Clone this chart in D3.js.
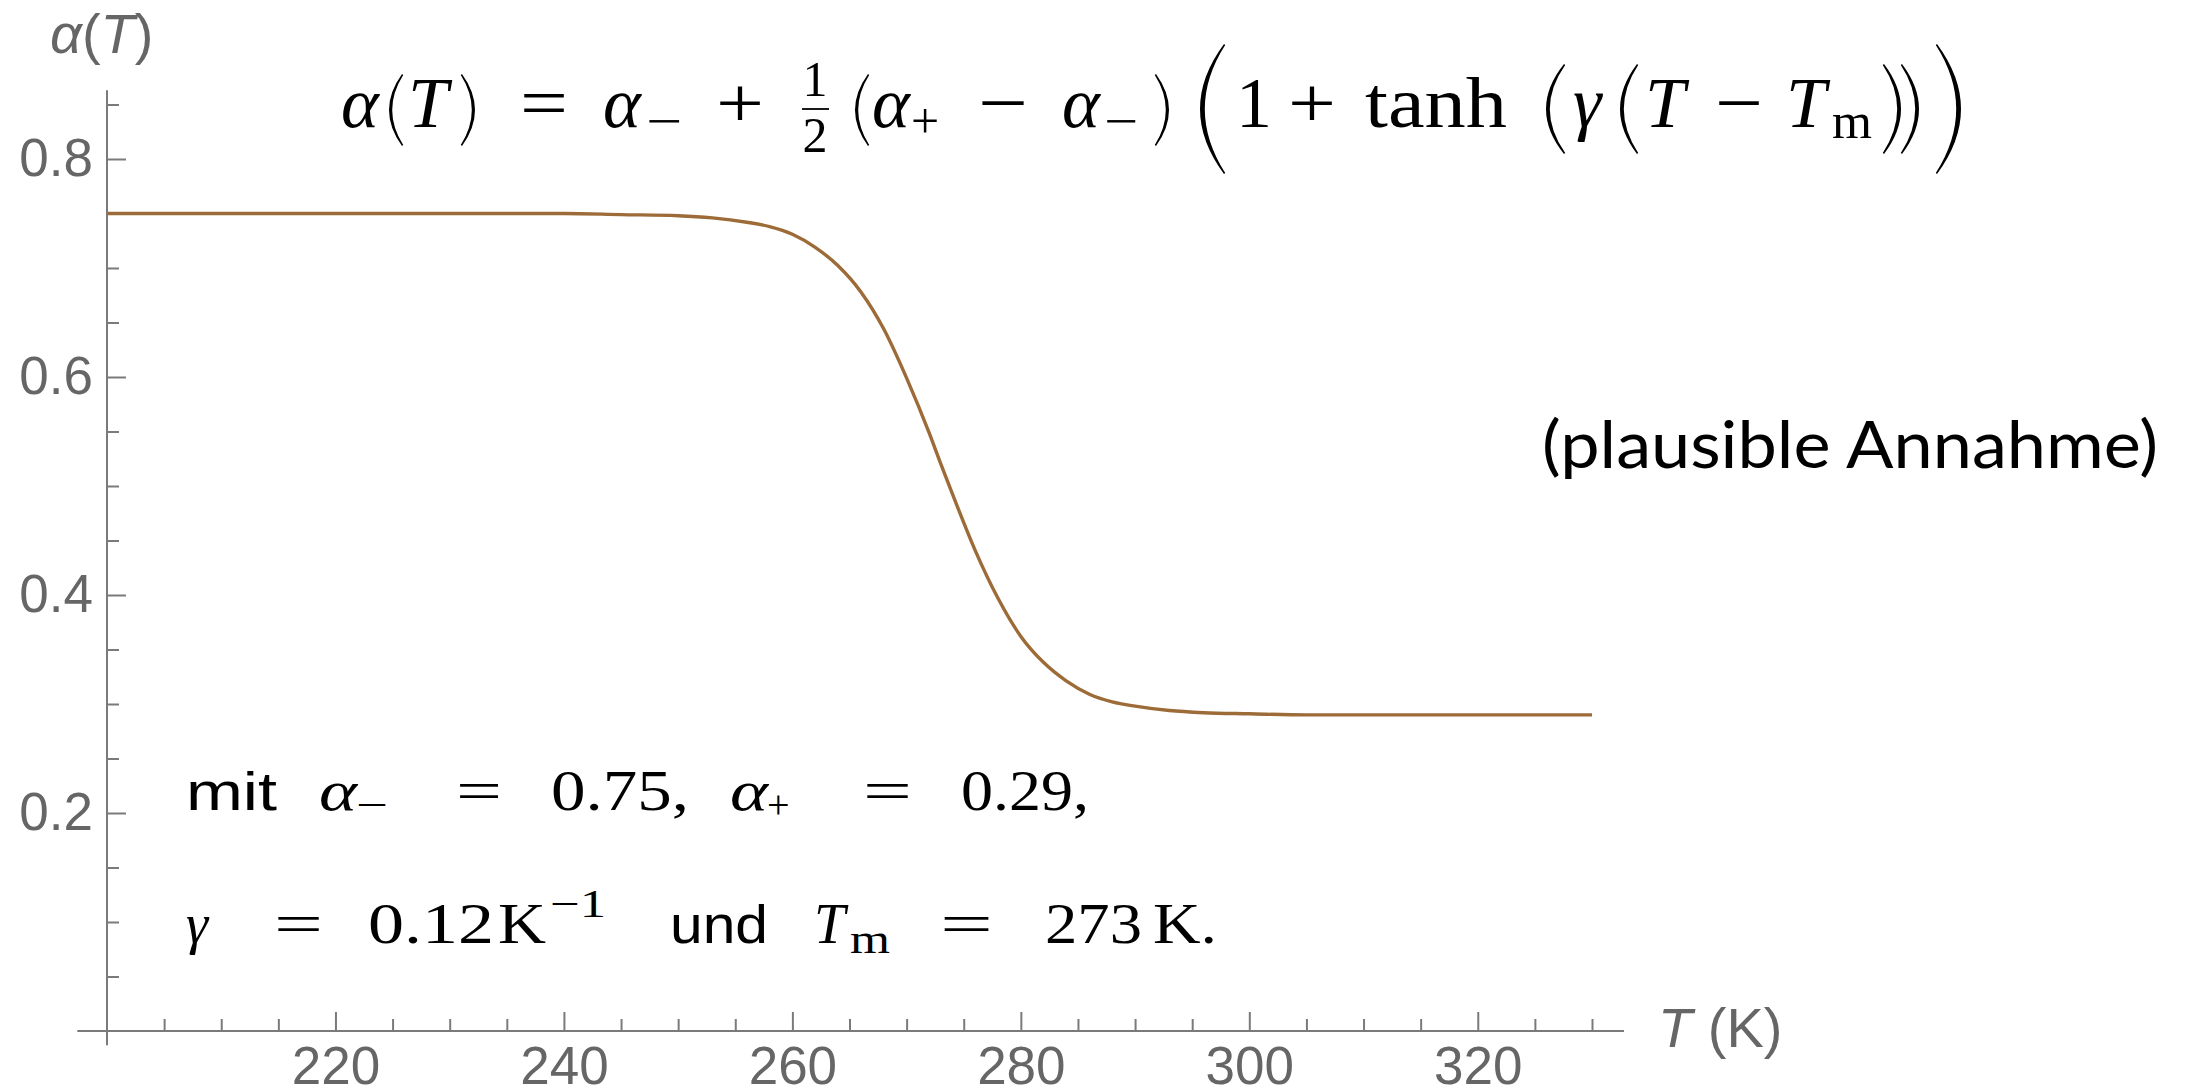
<!DOCTYPE html>
<html><head><meta charset="utf-8">
<script src="https://cdn.jsdelivr.net/npm/d3@7"></script>
<style>body{margin:0;background:#fff}svg{display:block}</style>
</head><body>
<svg id="c" width="2190" height="1092"></svg>
<script>
// ---- data ----
const temperatures = [200,210,220,230,240,245,250,253,256,258,260,262,264,266,268,270,272,273,274,276,278,280,282,284,286,288,290,293,296,300,305,310,320,330];
const albedo       = [0.750,0.750,0.750,0.750,0.750,0.749,0.748,0.746,0.742,0.738,0.731,0.719,0.702,0.678,0.644,0.599,0.548,0.520,0.493,0.441,0.397,0.362,0.338,0.321,0.309,0.302,0.298,0.294,0.292,0.291,0.290,0.290,0.290,0.290];
const xMajorTicks = [220,240,260,280,300,320];
const xMinorTicks = [205,210,215,225,230,235,245,250,255,265,270,275,285,290,295,305,310,315,325,330];
const yMajorTicks = [0.2,0.4,0.6,0.8];
const yTickLabels = ["0.2","0.4","0.6","0.8"];
const yMinorTicks = [0.05,0.1,0.15,0.25,0.3,0.35,0.45,0.5,0.55,0.65,0.7,0.75,0.85];
const xAxisLabel = ["T", " (K)"];
const yAxisLabel = ["α", "(", "T", ")"];
const note = "(plausible Annahme)";

const svg = d3.select("#c");
const x = d3.scaleLinear().domain([200,330]).range([107,1592]);
const y = d3.scaleLinear().domain([0,0.8]).range([1031,159]);
const axisColor = "#7a7a7a", labelColor = "#666";
const SANS = "'Liberation Sans', Arial, sans-serif";
const SERIF = "'Liberation Serif', 'Times New Roman', serif";

// axis lines
svg.append("line").attr("x1", x(197.4)).attr("x2", x(332.8)).attr("y1", y(0)).attr("y2", y(0))
  .attr("stroke", axisColor).attr("stroke-width", 2);
svg.append("line").attr("x1", x(200)).attr("x2", x(200)).attr("y1", y(-0.013)).attr("y2", y(0.863))
  .attr("stroke", axisColor).attr("stroke-width", 2);

function styleAxis(g){
  g.select(".domain").remove();
  g.selectAll(".tick line").attr("stroke", axisColor).attr("stroke-width", 2);
  g.selectAll(".tick text").attr("fill", labelColor).attr("font-family", SANS).attr("font-size", 53);
}
svg.append("g").attr("transform", `translate(0,${y(0)})`)
  .call(d3.axisBottom(x).tickValues(xMinorTicks).tickSize(-12).tickFormat(""))
  .call(styleAxis);
svg.append("g").attr("transform", `translate(0,${y(0)})`)
  .call(d3.axisBottom(x).tickValues(xMajorTicks).tickSize(-19).tickPadding(15).tickFormat(d3.format("d")))
  .call(styleAxis);
svg.append("g").attr("transform", `translate(${x(200)},0)`)
  .call(d3.axisLeft(y).tickValues(yMinorTicks).tickSize(-12).tickFormat(""))
  .call(styleAxis);
svg.append("g").attr("transform", `translate(${x(200)},0)`)
  .call(d3.axisLeft(y).tickValues(yMajorTicks).tickSize(-19).tickPadding(14).tickFormat((d,i)=>yTickLabels[i]))
  .call(styleAxis);

// curve
const pts = temperatures.map((t,i)=>({t, a: albedo[i]}));
svg.append("path").datum(pts)
  .attr("d", d3.line().x(d=>x(d.t)).y(d=>y(d.a)).curve(d3.curveMonotoneX))
  .attr("fill","none").attr("stroke","#9c6b37").attr("stroke-width",3.4);

// axis labels
const yl = svg.append("text").attr("x", 50).attr("y", 53).attr("font-family", SANS).attr("font-size", 56).attr("fill", labelColor);
yAxisLabel.forEach((s,i)=> yl.append("tspan").text(s).attr("font-style", (i===1||i===3)?"normal":"italic"));
const xl = svg.append("text").attr("x", 1658).attr("y", 1047).attr("font-family", SANS).attr("font-size", 56).attr("fill", labelColor);
xAxisLabel.forEach((s,i)=> xl.append("tspan").text(s).attr("font-style", i===0?"italic":"normal"));

// note
svg.append("text").attr("x", 1542).attr("y", 468).attr("font-family", "Lato, 'Open Sans', sans-serif")
  .attr("font-size", 66).attr("fill", "#000").attr("textLength", 616).attr("lengthAdjust", "spacingAndGlyphs").text(note);

// ---- formula helpers ----
function tok(s, x0, yb, size, w, opt={}){
  const t = svg.append("text").attr("x", x0).attr("y", yb).attr("font-size", size)
    .attr("font-family", opt.sans ? SANS : SERIF).attr("fill", "#000")
    .attr("font-style", opt.it ? "italic" : "normal").text(s);
  if (w) t.attr("textLength", w).attr("lengthAdjust", opt.spacing ? "spacing" : "spacingAndGlyphs");
  if (opt.anchor) t.attr("text-anchor", opt.anchor);
  return t;
}
function paren(xl, xr, yTop, yBot, th, open){
  const mid = (yTop+yBot)/2;
  let d;
  if (open){
    const co = 2*xl - xr, ci = 2*(xl+th) - xr;
    d = `M${xr},${yTop} Q${co},${mid} ${xr},${yBot} L${xr+1.2},${yBot-1} Q${ci},${mid} ${xr+1.2},${yTop+1} Z`;
  } else {
    const co = 2*xr - xl, ci = 2*(xr-th) - xl;
    d = `M${xl},${yTop} Q${co},${mid} ${xl},${yBot} L${xl-1.2},${yBot-1} Q${ci},${mid} ${xl-1.2},${yTop+1} Z`;
  }
  svg.append("path").attr("d", d).attr("fill", "#000");
}

// formula: α(T) = α− + ½(α+ − α−)(1 + tanh(γ(T − Tm)))
const FB = 127, FS = 72, SS = 50, SB = FB + 11;
tok("α", 341, FB, FS, null, {it:true});
paren(389, 402, 74, 146, 2.6, true);
tok("T", 408, FB, FS, null, {it:true});
paren(462, 475, 74, 146, 2.6, false);
tok("=", 520, FB, FS, 48);
tok("α", 603, FB, FS, null, {it:true}); tok("−", 646, SB, SS, 36);
tok("+", 716, FB, FS, 48);
tok("1", 815, 96, SS, null, {anchor:"middle"});
svg.append("line").attr("x1", 802).attr("x2", 829).attr("y1", 109).attr("y2", 109).attr("stroke","#000").attr("stroke-width",1.8);
tok("2", 815, 152, SS, null, {anchor:"middle"});
paren(855, 868, 74, 146, 2.6, true);
tok("α", 872, FB, FS, null, {it:true}); tok("+", 911, SB, SS, null);
tok("−", 978, FB, FS, 50);
tok("α", 1062, FB, FS, null, {it:true}); tok("−", 1104, SB, SS, 34);
paren(1156, 1169, 74, 146, 2.6, false);
paren(1200, 1224, 44, 174, 4.2, true);
tok("1", 1236, FB, FS, null);
tok("+", 1288, FB, FS, 48);
tok("tanh", 1365, FB, FS, 142);
paren(1546, 1564, 64, 154, 3.2, true);
tok("γ", 1573, FB, FS, null, {it:true});
paren(1620, 1637, 64, 154, 3.2, true);
tok("T", 1645, FB, FS, null, {it:true});
tok("−", 1715, FB, FS, 48);
tok("T", 1786, FB, FS, null, {it:true}); tok("m", 1832, SB, SS, 40);
paren(1884, 1901, 64, 154, 3.2, false);
paren(1902, 1919, 64, 154, 3.2, false);
paren(1937, 1961, 44, 174, 4.2, false);

// annotation lines
const L1 = 810, L2 = 943, AS = 56, AsS = 40;
tok("mit", 186, L1, 54, 91, {sans:true});
tok("α", 319, L1, AS, 38, {it:true}); tok("−", 356, L1+8, AsS, 32);
tok("=", 456, L1, AS, 46);
tok("0.75,", 551, L1, AS, 138);
tok("α", 730, L1, AS, 38, {it:true}); tok("+", 767, L1+8, AsS, null);
tok("=", 863, L1, AS, 49);
tok("0.29,", 961, L1, AS, 128);
tok("γ", 186, L2, AS, null, {it:true});
tok("=", 274, L2, AS, 49);
tok("0.12", 368, L2, AS, 126);
tok("K", 498, L2, AS, 48);
tok("−1", 550, L2-26, AsS, 56);
tok("und", 670, L2, 54, 98, {sans:true});
tok("T", 814, L2, AS, null, {it:true}); tok("m", 850, L2+10, AsS, 40);
tok("=", 940, L2, AS, 53);
tok("273", 1045, L2, AS, 97);
tok("K.", 1153, L2, AS, 64);
</script>
</body></html>
